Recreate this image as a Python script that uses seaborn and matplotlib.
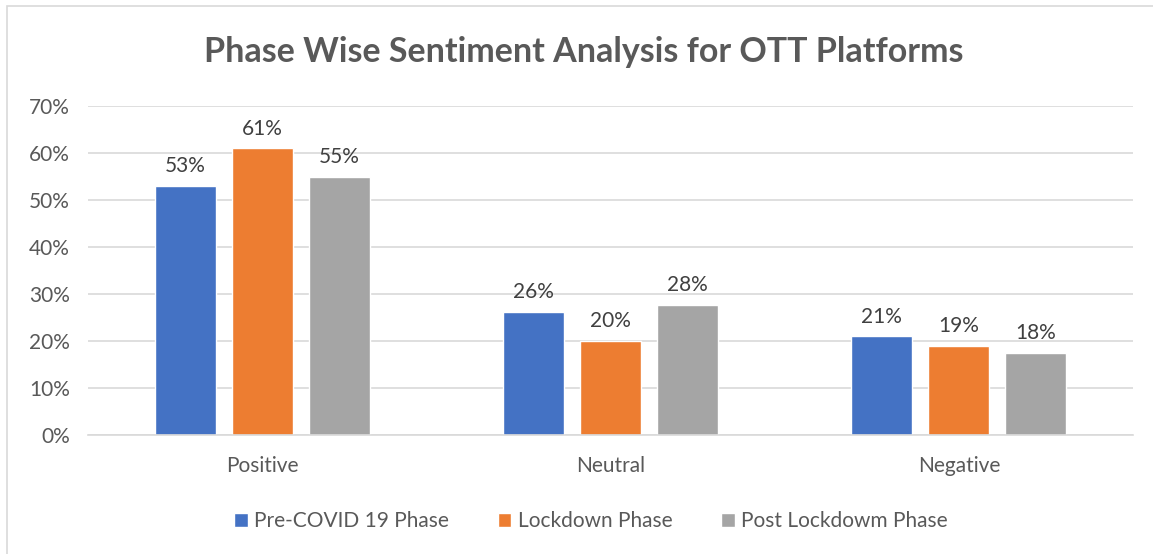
import matplotlib
matplotlib.use("Agg")
import matplotlib.pyplot as plt
import seaborn as sns
import pandas as pd
from matplotlib.patches import Rectangle

categories = ["Positive", "Neutral", "Negative"]
phases = ["Pre-COVID 19 Phase", "Lockdown Phase", "Post Lockdowm Phase"]
pre_covid = [0.53, 0.262, 0.21]
lockdown = [0.61, 0.20, 0.19]
post_lockdown = [0.55, 0.277, 0.175]
colors = ["#4472C4", "#ED7D31", "#A5A5A5"]
yticks = [0, 0.1, 0.2, 0.3, 0.4, 0.5, 0.6, 0.7]

rows = []
for ph, vals in zip(phases, [pre_covid, lockdown, post_lockdown]):
    for c, v in zip(categories, vals):
        rows.append({"Sentiment": c, "Phase": ph, "Value": v})
df = pd.DataFrame(rows)

sns.set_theme(style="white")
plt.rcParams["font.family"] = ["Lato", "DejaVu Sans"]
text_col = "#595959"
fs = 15

fig = plt.figure(figsize=(11.53, 5.54), dpi=100)
ax = fig.add_axes([88/1153, 1-435/554, (1133-88)/1153, (435-106)/554])

sns.barplot(data=df, x="Sentiment", y="Value", hue="Phase", order=categories,
            hue_order=phases, palette=colors, width=0.663, gap=0.21,
            saturation=1, ax=ax, legend=True)

ax.set_ylim(0, 0.7)
ax.set_xlim(-0.5, 2.5)
ax.set_yticks(yticks)
ax.set_yticklabels([f"{int(round(t*100))}%" for t in yticks], fontsize=fs, color=text_col)
ax.set_xticklabels(categories, fontsize=fs, color=text_col)
ax.tick_params(axis="x", length=0, pad=15)
ax.tick_params(axis="y", length=0, pad=13)
ax.yaxis.grid(True, color="#D9D9D9", linewidth=1.2)
ax.set_axisbelow(True)
for s in ["top", "right", "left"]:
    ax.spines[s].set_visible(False)
ax.spines["bottom"].set_color("#D9D9D9")
ax.spines["bottom"].set_linewidth(1.2)
ax.set_xlabel("")
ax.set_ylabel("")

for cont in ax.containers:
    ax.bar_label(cont, labels=[f"{v*100:.0f}%" for v in cont.datavalues],
                 padding=7, fontsize=fs, color="#404040")

handles, labels = ax.get_legend_handles_labels()
ax.get_legend().remove()
fig.legend(handles, labels, loc="center", bbox_to_anchor=(591/1153, 1-521/554), ncol=3,
           frameon=False, fontsize=fs, labelcolor=text_col, handlelength=0.65,
           handleheight=0.65, handletextpad=0.3, columnspacing=2.35)

fig.text(584/1153, 1-52/554, "Phase Wise Sentiment Analysis for OTT Platforms",
         ha="center", va="center", fontsize=24.5, fontweight="bold", color=text_col)

fig.patches.append(Rectangle((7/1153, -0.05), 1.2, 1-6/554 + 0.05, transform=fig.transFigure,
                             fill=False, edgecolor="#D9D9D9", linewidth=1.2))

fig.savefig("out.png", dpi=100)
